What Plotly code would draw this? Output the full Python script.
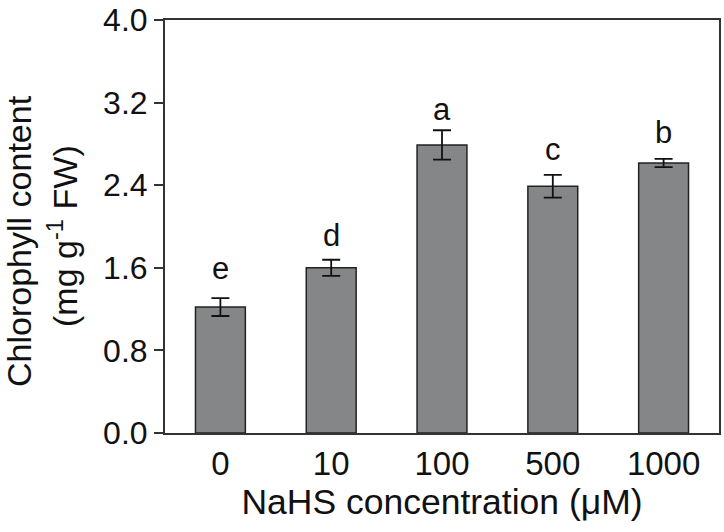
import plotly.graph_objects as go

categories = ["0", "10", "100", "500", "1000"]
chlorophyll = [1.22, 1.60, 2.79, 2.39, 2.615]
errors = [0.087, 0.078, 0.142, 0.11, 0.04]
letters = ["e", "d", "a", "c", "b"]
letter_baseline = [1.50, 1.82, 3.04, 2.645, 2.81]
y_ticks = [0.0, 0.8, 1.6, 2.4, 3.2, 4.0]
y_tick_text = ["0.0", "0.8", "1.6", "2.4", "3.2", "4.0"]
y_title_lines = ["Chlorophyll content", "(mg g<sup>-1</sup> FW)"]

FONT = "Liberation Sans, Arial, sans-serif"
INK = "#111111"
AX = "#333333"

fig = go.Figure()
fig.add_trace(go.Bar(
    x=categories, y=chlorophyll, width=0.45,
    marker=dict(color="#858688", line=dict(color="#222222", width=1.5)),
    error_y=dict(type="data", array=errors, visible=True,
                 color="#111111", thickness=1.8, width=9),
    showlegend=False,
))

for i, (t, yb) in enumerate(zip(letters, letter_baseline)):
    fig.add_annotation(x=i, y=yb, text=t, showarrow=False,
                       xanchor="center", yanchor="middle", yshift=10,
                       font=dict(family=FONT, size=31, color=INK))

for line, xs, yp in zip(y_title_lines, [-146, -102], [0.465, 0.477]):
    fig.add_annotation(xref="paper", yref="paper", x=0, y=yp,
                       xanchor="center", yanchor="middle", xshift=xs,
                       text=line, textangle=-90, showarrow=False,
                       font=dict(family=FONT, size=34, color=INK))

fig.update_layout(
    width=724, height=532,
    margin=dict(l=165, r=5, t=20, b=99, autoexpand=False),
    plot_bgcolor="white", paper_bgcolor="white",
    font=dict(family=FONT, color=INK),
    xaxis=dict(type="category", range=[-0.5, 4.5], automargin=False,
               showline=True, linecolor=AX, linewidth=2, mirror=True,
               ticks="", tickfont=dict(size=33, color=INK),
               title=dict(text="NaHS concentration (\u03bcM)",
                          font=dict(size=35.5, color=INK), standoff=5)),
    yaxis=dict(range=[0, 4.0], tickvals=y_ticks, ticktext=y_tick_text,
               automargin=False,
               showline=True, linecolor=AX, linewidth=2, mirror=True,
               ticks="outside", ticklen=9, tickwidth=1.5, tickcolor=AX,
               tickfont=dict(size=32, color=INK), showgrid=False,
               zeroline=False),
)

fig.write_html("out.html", config={"displayModeBar": False},
               post_script="document.body.style.margin='0';document.body.style.overflow='hidden';")
